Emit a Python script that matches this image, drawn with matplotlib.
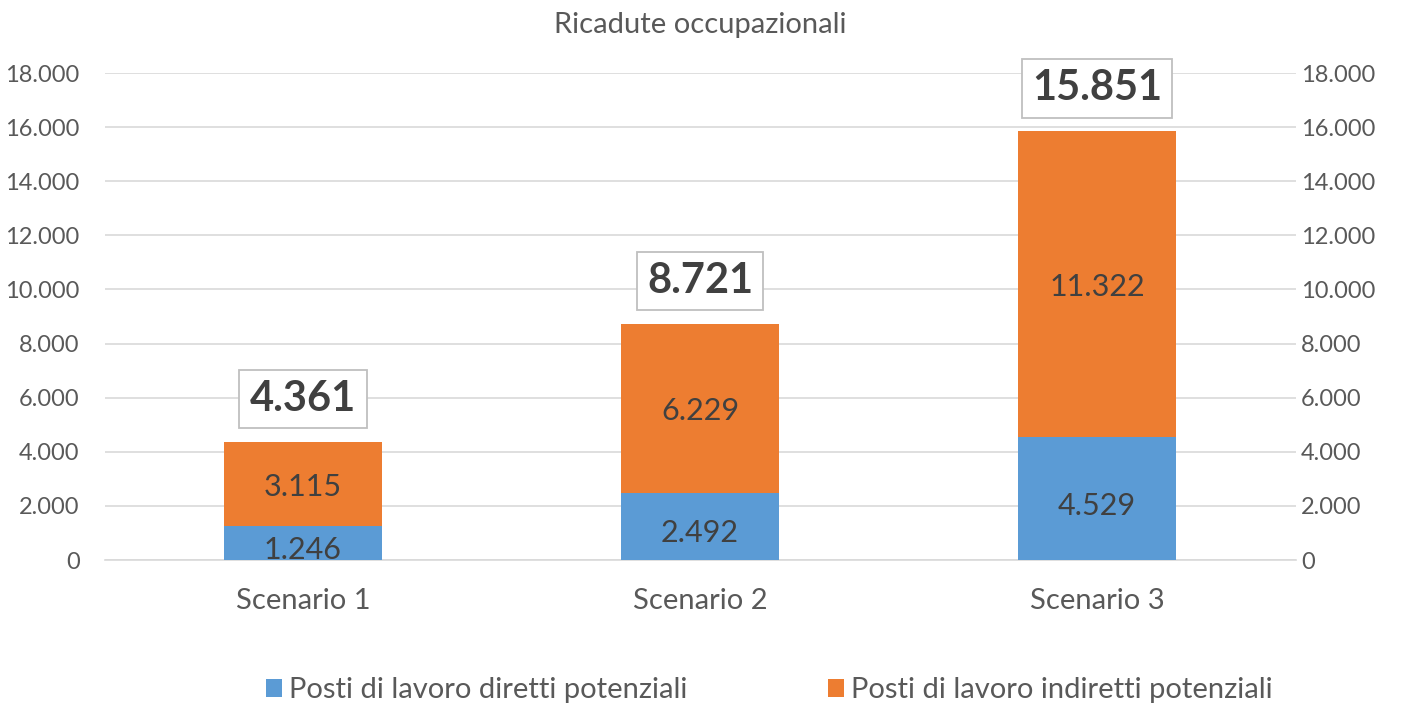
import numpy as np
import matplotlib
matplotlib.use("Agg")
import matplotlib.pyplot as plt
from matplotlib.ticker import FuncFormatter

plt.rcParams['font.family'] = ['Lato', 'DejaVu Sans']

scenari = ["Scenario 1", "Scenario 2", "Scenario 3"]
diretti = [1246, 2492, 4529]
indiretti = [3115, 6229, 11322]
totali = [4361, 8721, 15851]
serie_nomi = ["Posti di lavoro diretti potenziali", "Posti di lavoro indiretti potenziali"]

blu = "#5B9BD5"
arancio = "#ED7D31"
testo = "#404040"
grigio = "#595959"

def fmt_it(v, pos=None):
    return "{:,.0f}".format(v).replace(",", ".")

fig = plt.figure(figsize=(14.01, 7.07), dpi=100)
ax = fig.add_axes([0.0746, 0.2079, 0.8501, 0.6888])

x = np.arange(len(scenari))
b1 = ax.bar(x, diretti, width=0.4, color=blu, label=serie_nomi[0], zorder=3)
b2 = ax.bar(x, indiretti, width=0.4, bottom=diretti, color=arancio, label=serie_nomi[1], zorder=3)

for i in range(len(scenari)):
    ax.text(x[i], diretti[i] / 2 - 250, fmt_it(diretti[i]), ha="center", va="center",
            fontsize=22, color=testo, zorder=4)
    ax.text(x[i], diretti[i] + indiretti[i] / 2 - 100, fmt_it(indiretti[i]), ha="center", va="center",
            fontsize=22, color=testo, zorder=4)
    ax.annotate(fmt_it(totali[i]), xy=(x[i], totali[i]), xytext=(0, 31),
                textcoords="offset points", ha="center", va="center",
                fontsize=30, fontweight="bold", color=testo, zorder=5,
                bbox=dict(boxstyle="square,pad=0.25", fc="white", ec="#BFBFBF", lw=1.3))

ax.set_xlim(-0.5, 2.5)
ax.set_ylim(0, 18000)
ax.set_yticks(np.arange(0, 18001, 2000))
ax.yaxis.set_major_formatter(FuncFormatter(fmt_it))
ax.set_xticks(x)
ax.set_xticklabels(scenari, fontsize=21, color=grigio)
ax.tick_params(axis="y", labelsize=17, labelcolor=grigio, length=0, pad=18)
ax.tick_params(axis="x", length=0, pad=20)
ax.grid(axis="y", color="#D9D9D9", lw=1.2, zorder=0)
for s in ["top", "right", "left"]:
    ax.spines[s].set_visible(False)
ax.spines["bottom"].set_color("#D9D9D9")
ax.spines["bottom"].set_linewidth(1.2)

ax2 = ax.twinx()
ax2.set_ylim(ax.get_ylim())
ax2.set_yticks(np.arange(0, 18001, 2000))
ax2.yaxis.set_major_formatter(FuncFormatter(fmt_it))
ax2.tick_params(axis="y", labelsize=17, labelcolor=grigio, length=0, pad=4)
for s in ax2.spines.values():
    s.set_visible(False)

fig.text(0.5, 0.965, "Ricadute occupazionali", ha="center", va="center", fontsize=21, color=grigio)

fig.legend(handles=[b1, b2], loc="center", bbox_to_anchor=(0.549, 0.024), ncol=2,
           frameon=False, fontsize=21, labelcolor=grigio, handlelength=0.55, handleheight=0.55,
           handletextpad=0.25, columnspacing=4.8)

fig.savefig("out.png", dpi=100)
